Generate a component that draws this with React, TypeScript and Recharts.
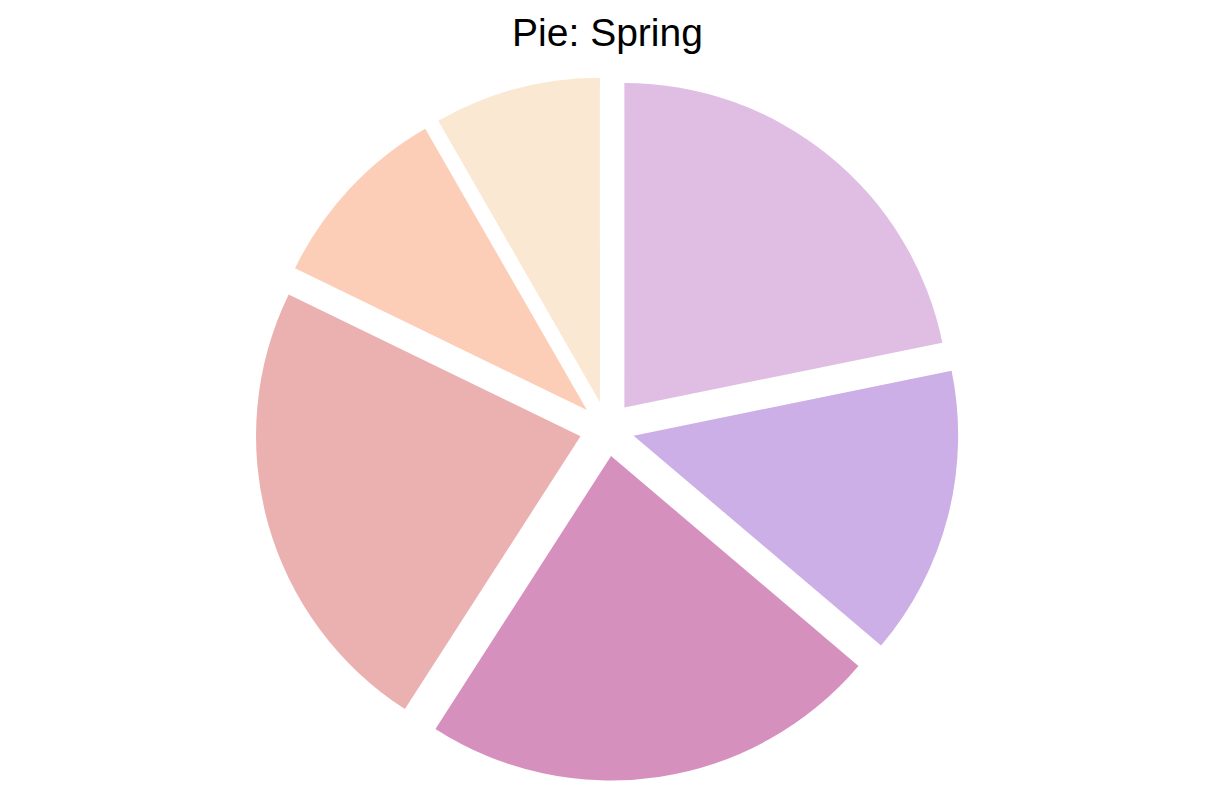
import React from 'react';
import { PieChart, Pie, Cell, Sector } from 'recharts';

const categories = ['A', 'B', 'C', 'D', 'E', 'F'];
const values = [21.8, 14.4, 22.9, 23.1, 9.5, 8.3];
const colors = ['#E0BEE4', '#CBAFE6', '#D690BD', '#EBB1B1', '#FDCEB7', '#FBE8D3'];
const title = 'Pie: Spring';

const data = categories.map((name, i) => ({ name, value: values[i] }));

const RADIAN = Math.PI / 180;
const EXPLODE = 27.5;

const ExplodedSector = (props: any) => {
  const { cx, cy, midAngle, innerRadius, outerRadius, startAngle, endAngle, fill } = props;
  const dx = EXPLODE * Math.cos(-midAngle * RADIAN);
  const dy = EXPLODE * Math.sin(-midAngle * RADIAN);
  return (
    <Sector
      cx={cx + dx}
      cy={cy + dy}
      innerRadius={innerRadius}
      outerRadius={outerRadius}
      startAngle={startAngle}
      endAngle={endAngle}
      fill={fill}
      stroke="none"
    />
  );
};

export default function App() {
  return (
    <div style={{ position: 'absolute', left: 0, top: 0, width: 1213, height: 808, background: '#fff' }}>
      <PieChart width={1213} height={808} margin={{ top: 0, right: 0, bottom: 0, left: 0 }}>
        <Pie
          data={data}
          dataKey="value"
          nameKey="name"
          cx={607}
          cy={428.8}
          innerRadius={0}
          outerRadius={324.5}
          startAngle={90}
          endAngle={-270}
          stroke="none"
          isAnimationActive={false}
          shape={ExplodedSector}
        >
          {data.map((d, i) => (
            <Cell key={d.name} fill={colors[i]} />
          ))}
        </Pie>
      </PieChart>
      <svg width={1213} height={70} style={{ position: 'absolute', left: 0, top: 0 }}>
        <text
          x={607.5}
          y={45.5}
          textAnchor="middle"
          fontFamily="'Liberation Sans', Arial, sans-serif"
          fontSize={39}
          fill="#000"
        >
          {title}
        </text>
      </svg>
    </div>
  );
}
